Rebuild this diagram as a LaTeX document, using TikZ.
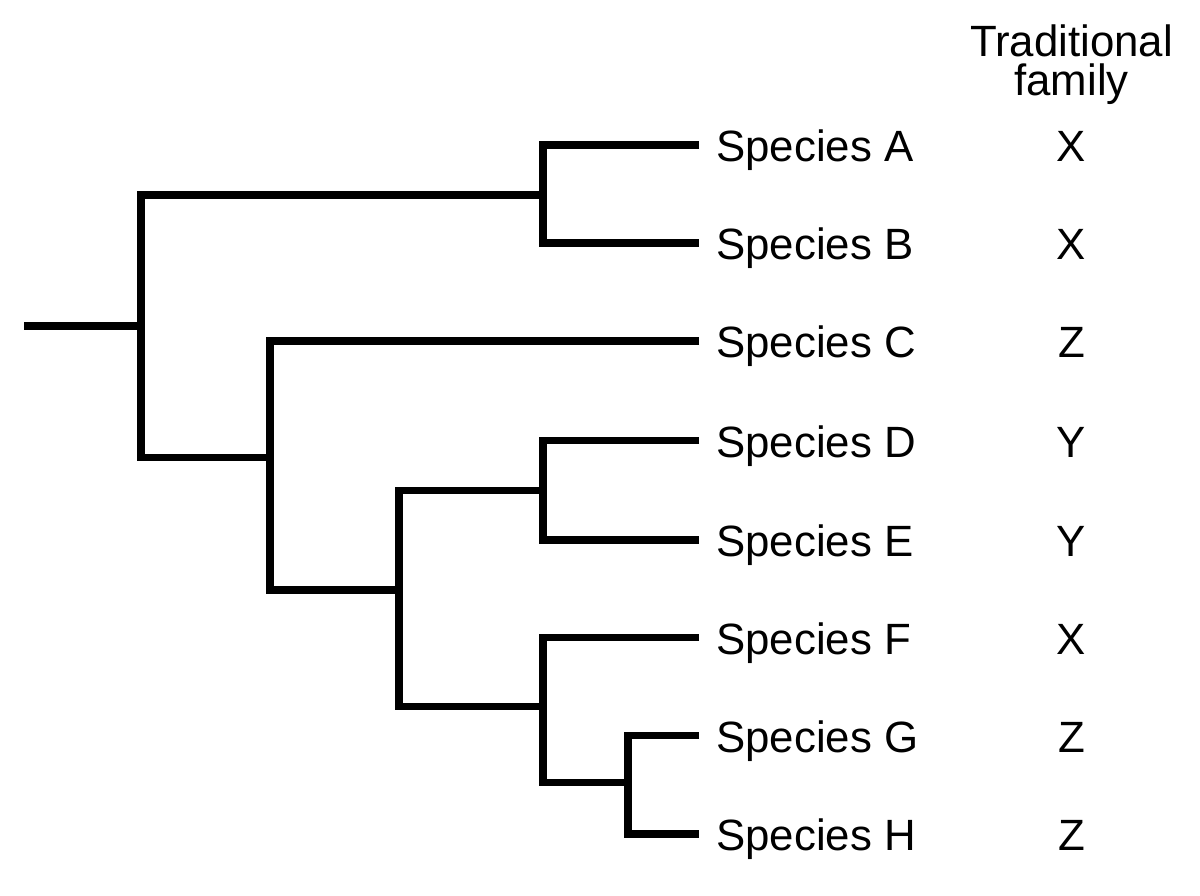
\documentclass[tikz,border=0pt]{standalone}
\usepackage{fontspec}
\setmainfont{Liberation Sans}
\begin{document}
\begin{tikzpicture}[x=1pt,y=-1pt,
  branch/.style={line width=7.5pt, line join=miter, line cap=butt},
  lab/.style={font=\fontsize{43.8}{40}\selectfont, inner sep=0pt, anchor=base west},
  fam/.style={font=\fontsize{43.8}{40}\selectfont, inner sep=0pt, anchor=base}]
\useasboundingbox (0,0) rectangle (1200,896);
% header
\node[font=\fontsize{43.8}{39}\selectfont, inner sep=0pt, align=center, anchor=north] (hdr) at (1071.5,25) {Traditional\\family};
% leaves
\foreach \n/\y/\f in {A/145/X, B/243/X, C/341/Z, D/440.5/Y, E/540/Y, F/637.5/X, G/735.5/Z, H/834/Z}{
  \coordinate (t\n) at (699,\y);
  \node[lab] (s\n) at (716,\y+16.5) {Species \n};
  \node[fam] (f\n) at (1071.5,\y+16.5) {\f};
}
% internal nodes
\coordinate (root) at (24,326);
\coordinate (n0) at (141,326);
\coordinate (nAB) at (543,195);
\coordinate (n1) at (270,457.5);
\coordinate (n2) at (399,590);
\coordinate (nDE) at (543,490.5);
\coordinate (nFGH) at (543,706.5);
\coordinate (nGH) at (628,782.5);
% branches
\draw[branch] (root) -- (n0);
\draw[branch] (nAB) -- (n0 |- nAB) -- (n0 |- n1) -- (n1);
\draw[branch] (tA) -- (nAB |- tA) -- (nAB |- tB) -- (tB);
\draw[branch] (tC) -- (n1 |- tC) -- (n1 |- n2) -- (n2);
\draw[branch] (nDE) -- (n2 |- nDE) -- (n2 |- nFGH) -- (nFGH);
\draw[branch] (tD) -- (nDE |- tD) -- (nDE |- tE) -- (tE);
\draw[branch] (tF) -- (nFGH |- tF) -- (nFGH |- nGH) -- (nGH);
\draw[branch] (tG) -- (nGH |- tG) -- (nGH |- tH) -- (tH);
\end{tikzpicture}
\end{document}
